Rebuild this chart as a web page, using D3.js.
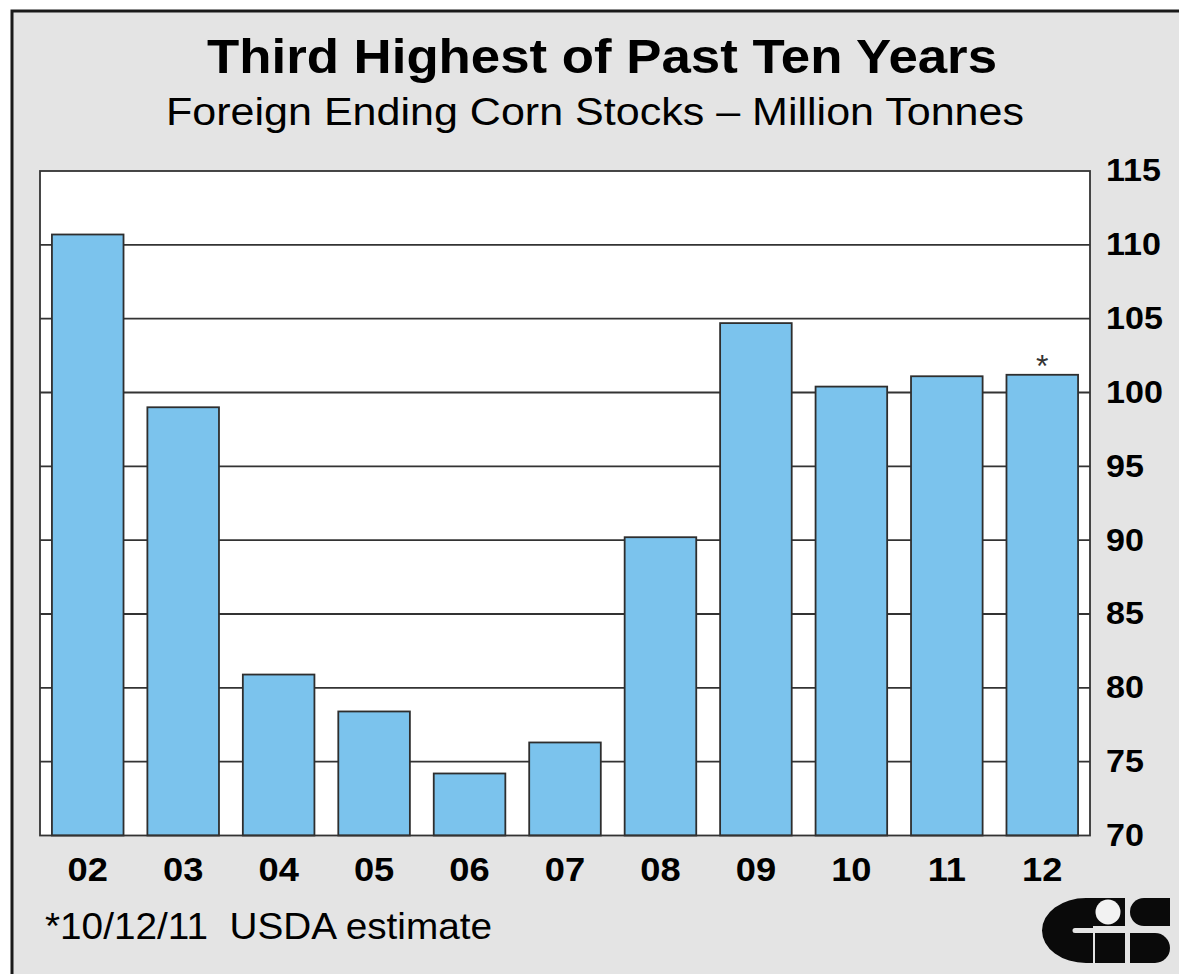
<!DOCTYPE html>
<html>
<head>
<meta charset="utf-8">
<script src="https://cdn.jsdelivr.net/npm/d3@7"></script>
<style>
  html, body { margin: 0; padding: 0; background: #ffffff; }
  svg { display: block; }
</style>
</head>
<body>
<div id="chart"></div>
<script>
// Foreign ending corn stocks by marketing year (million tonnes)
const years = ["02", "03", "04", "05", "06", "07", "08", "09", "10", "11", "12"];
const stocks = [110.7, 99.0, 80.9, 78.4, 74.2, 76.3, 90.2, 104.7, 100.4, 101.1, 101.2];
const estimateFlags = [false, false, false, false, false, false, false, false, false, false, true];
const yTicks = [70, 75, 80, 85, 90, 95, 100, 105, 110, 115];

const W = 1179, H = 974;
const plot = { left: 40, right: 1090, top: 171, bottom: 835.5 };
const FONT = "Liberation Sans, Arial, Helvetica, sans-serif";
const WIDEN = 1.1; // glyphs are drawn slightly wide

// Stretch a text selection horizontally while keeping its height
function widen(sel, factor) {
  sel.each(function () {
    const len = this.getComputedTextLength();
    d3.select(this)
      .attr("textLength", len * factor)
      .attr("lengthAdjust", "spacingAndGlyphs");
  });
}

const svg = d3.select("#chart").append("svg")
  .attr("width", W).attr("height", H);

// Grey panel with dark frame on left/top
svg.append("rect")
  .attr("x", 12).attr("y", 11)
  .attr("width", W + 20).attr("height", H + 20)
  .attr("fill", "#e4e4e4")
  .attr("stroke", "#1a1a1a").attr("stroke-width", 3);

// Titles
svg.append("text")
  .attr("x", 602).attr("y", 73)
  .attr("text-anchor", "middle")
  .attr("font-family", FONT)
  .attr("font-weight", "bold").attr("font-size", 49)
  .attr("fill", "#000")
  .text("Third Highest of Past Ten Years")
  .attr("textLength", 790).attr("lengthAdjust", "spacingAndGlyphs");

svg.append("text")
  .attr("x", 595).attr("y", 125)
  .attr("text-anchor", "middle")
  .attr("font-family", FONT)
  .attr("font-size", 39)
  .attr("fill", "#000")
  .text("Foreign Ending Corn Stocks \u2013 Million Tonnes")
  .attr("textLength", 858).attr("lengthAdjust", "spacingAndGlyphs");

const x = d3.scaleBand()
  .domain(years)
  .range([plot.left, plot.right])
  .paddingInner(0.25)
  .paddingOuter(0.125);

const y = d3.scaleLinear()
  .domain([70, 115])
  .range([plot.bottom, plot.top]);

// Plot background
svg.append("rect")
  .attr("x", plot.left).attr("y", plot.top)
  .attr("width", plot.right - plot.left)
  .attr("height", plot.bottom - plot.top)
  .attr("fill", "#ffffff");

// Horizontal gridlines
svg.append("g")
  .selectAll("line")
  .data(yTicks.filter(t => t > 70 && t < 115))
  .join("line")
  .attr("x1", plot.left).attr("x2", plot.right)
  .attr("y1", d => y(d)).attr("y2", d => y(d))
  .attr("stroke", "#333").attr("stroke-width", 1.8);

// Bars
svg.append("g")
  .selectAll("rect")
  .data(years)
  .join("rect")
  .attr("x", d => x(d))
  .attr("y", (d, i) => y(stocks[i]))
  .attr("width", x.bandwidth())
  .attr("height", (d, i) => y(70) - y(stocks[i]))
  .attr("fill", "#7bc3ed")
  .attr("stroke", "#2e2e2e").attr("stroke-width", 1.8);

// Estimate marker
svg.append("g")
  .selectAll("text")
  .data(years.filter((d, i) => estimateFlags[i]))
  .join("text")
  .attr("x", d => x(d) + x.bandwidth() / 2)
  .attr("y", d => y(stocks[years.indexOf(d)]) + 2)
  .attr("text-anchor", "middle")
  .attr("font-family", FONT)
  .attr("font-size", 32)
  .attr("fill", "#333")
  .text("*");

// Plot frame
svg.append("rect")
  .attr("x", plot.left).attr("y", plot.top)
  .attr("width", plot.right - plot.left)
  .attr("height", plot.bottom - plot.top)
  .attr("fill", "none")
  .attr("stroke", "#333").attr("stroke-width", 1.8);

// Right value axis
const yAxis = d3.axisRight(y)
  .tickValues(yTicks)
  .tickSize(0)
  .tickPadding(16);

svg.append("g")
  .attr("transform", `translate(${plot.right},0)`)
  .call(yAxis)
  .call(g => g.select(".domain").remove())
  .call(g => g.selectAll("text")
    .attr("font-family", FONT)
    .attr("font-weight", "bold")
    .attr("font-size", 31)
    .attr("fill", "#000")
    .call(widen, WIDEN));

// Bottom category axis
const xAxis = d3.axisBottom(x).tickSize(0).tickPadding(22);
svg.append("g")
  .attr("transform", `translate(0,${plot.bottom})`)
  .call(xAxis)
  .call(g => g.select(".domain").remove())
  .call(g => g.selectAll("text")
    .attr("font-family", FONT)
    .attr("font-weight", "bold")
    .attr("font-size", 33)
    .attr("fill", "#000")
    .call(widen, WIDEN));

// Footnote
svg.append("text")
  .attr("x", 45).attr("y", 939)
  .attr("font-family", FONT)
  .attr("font-size", 37)
  .attr("fill", "#000")
  .attr("xml:space", "preserve")
  .text("*10/12/11  USDA estimate")
  .attr("textLength", 447).attr("lengthAdjust", "spacingAndGlyphs");

// CIS logo
const logo = svg.append("g").attr("fill", "#0a0a0a");
logo.append("path")
  .attr("d", "M1093,898 H1086 A44,32.5 0 0 0 1086,963 H1093 V933 H1075 A2.5,2.5 0 0 1 1075,928 H1093 Z");
logo.append("rect").attr("x", 1093).attr("y", 898).attr("width", 32).attr("height", 28);
logo.append("circle").attr("cx", 1108).attr("cy", 912).attr("r", 12.5).attr("fill", "#f2f2f2");
logo.append("rect").attr("x", 1095).attr("y", 933).attr("width", 30).attr("height", 30);
logo.append("path")
  .attr("d", "M1170,898 H1144 A14,14 0 0 0 1144,926 H1170 Z");
logo.append("path")
  .attr("d", "M1130,933 H1155 A15,15 0 0 1 1155,963 H1130 Z");
</script>
</body>
</html>
